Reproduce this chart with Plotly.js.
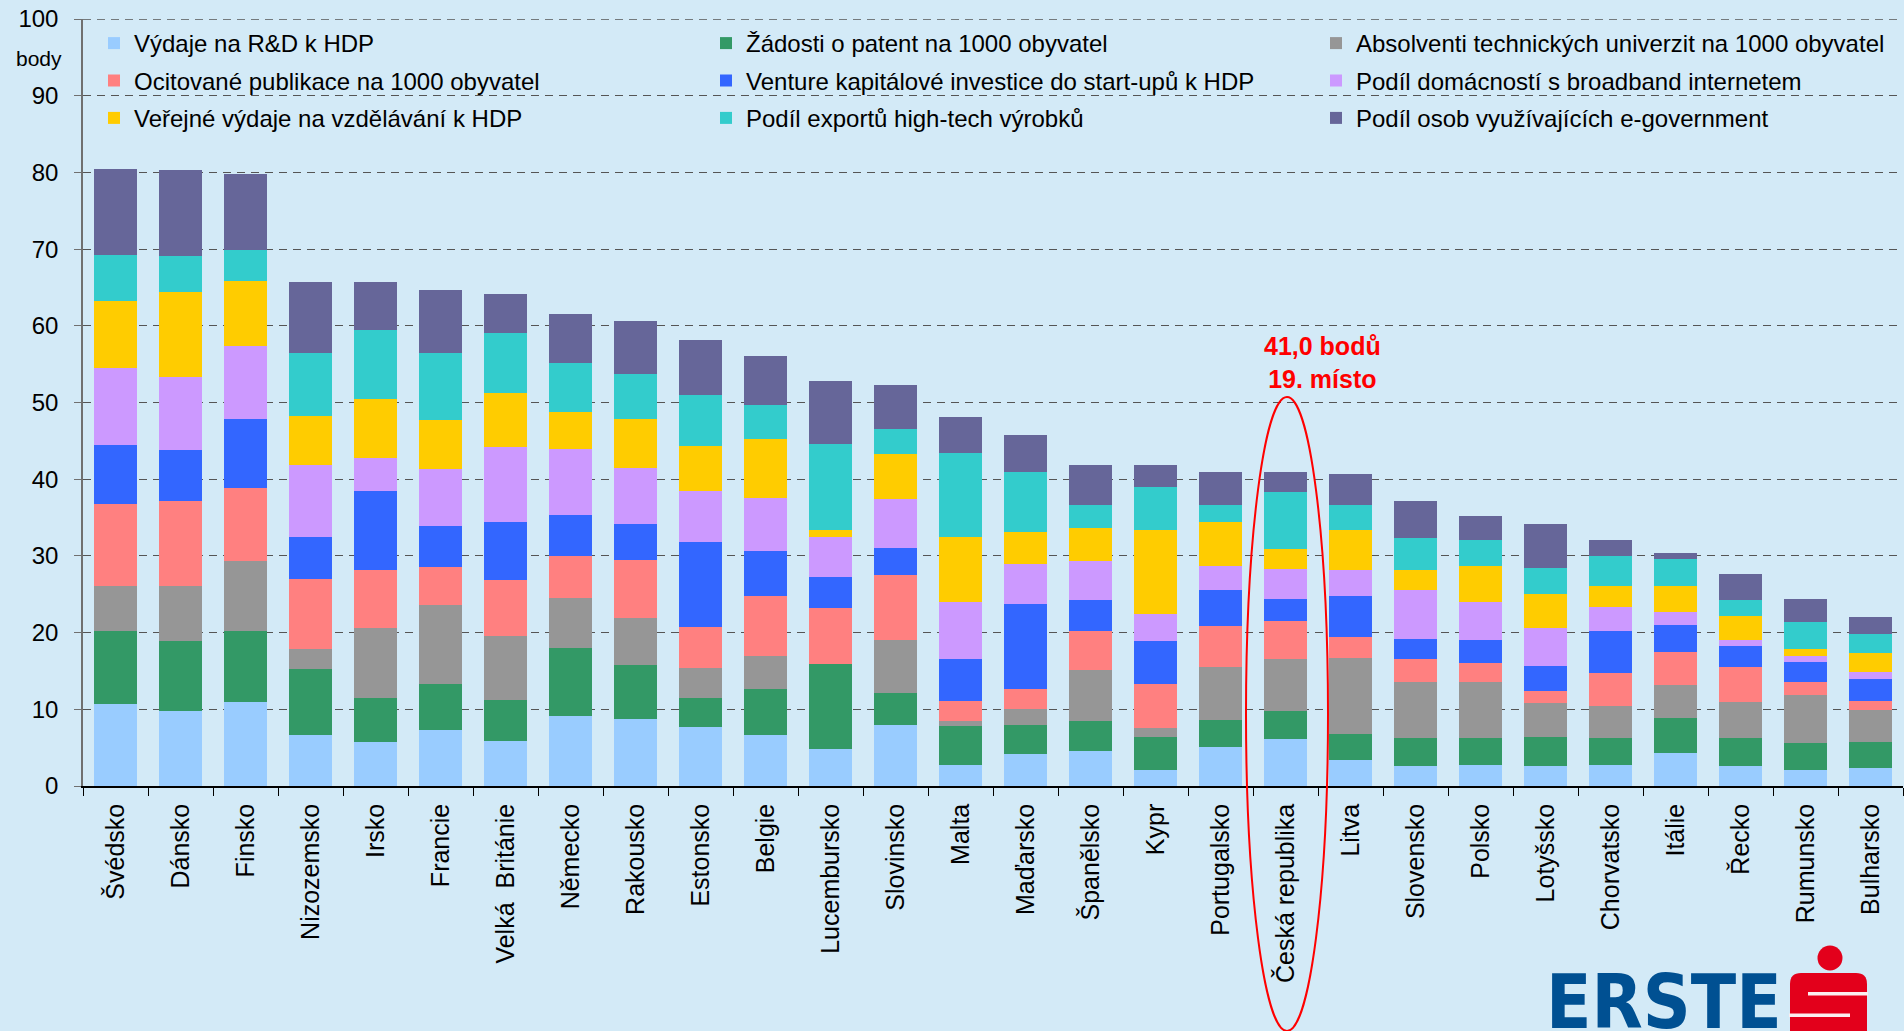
<!DOCTYPE html>
<html>
<head>
<meta charset="utf-8">
<script src="https://cdn.plot.ly/plotly-3.0.1.min.js"></script>
<style>
html,body{margin:0;padding:0;background:#d3eaf7;}
#chart{width:1904px;height:1031px;}
</style>
</head>
<body>
<div id="chart"></div>
<script>
// ---- data ----
const countries = ["Švédsko","Dánsko","Finsko","Nizozemsko","Irsko","Francie","Velká  Británie","Německo","Rakousko","Estonsko","Belgie","Lucembursko","Slovinsko","Malta","Maďarsko","Španělsko","Kypr","Portugalsko","Česká republika","Litva","Slovensko","Polsko","Lotyšsko","Chorvatsko","Itálie","Řecko","Rumunsko","Bulharsko"];

const seriesNames = [
  "Výdaje na R&D k HDP",
  "Žádosti o patent na 1000 obyvatel",
  "Absolventi technických univerzit na 1000 obyvatel",
  "Ocitované publikace na 1000 obyvatel",
  "Venture kapitálové investice do start-upů k HDP",
  "Podíl domácností s broadband internetem",
  "Veřejné výdaje na vzdělávání k HDP",
  "Podíl exportů high-tech výrobků",
  "Podíl osob využívajících e-government"
];

const rd         = [10.7, 9.8,10.9, 6.7, 5.7, 7.3, 5.9, 9.1, 8.7, 7.7, 6.6, 4.8, 8.0, 2.7, 4.2, 4.6, 2.1, 5.1, 6.1, 3.4, 2.6, 2.8, 2.6, 2.8, 4.3, 2.6, 2.1, 2.3];
const patenty    = [ 9.5, 9.1, 9.3, 8.6, 5.8, 6.0, 5.3, 8.9, 7.1, 3.8, 6.1,11.1, 4.1, 5.1, 3.8, 3.9, 4.3, 3.5, 3.7, 3.4, 3.6, 3.5, 3.8, 3.5, 4.6, 3.6, 3.5, 3.4];
const absolventi = [ 5.9, 7.2, 9.1, 2.5, 9.1,10.3, 8.3, 6.5, 6.1, 3.9, 4.3, 0.0, 6.9, 0.7, 2.0, 6.6, 1.2, 6.9, 6.7, 9.9, 7.3, 7.2, 4.4, 4.1, 4.3, 4.7, 6.2, 4.2];
const publikace  = [10.7,11.0, 9.6, 9.2, 7.6, 4.9, 7.4, 5.5, 7.6, 5.3, 7.8, 7.3, 8.5, 2.6, 2.6, 5.1, 5.7, 5.4, 5.0, 2.7, 3.0, 2.5, 1.6, 4.3, 4.3, 4.6, 1.7, 1.2];
const venture    = [ 7.6, 6.7, 9.0, 5.5,10.2, 5.4, 7.5, 5.3, 4.6,11.1, 5.8, 4.1, 3.5, 5.5,11.1, 4.1, 5.6, 4.6, 2.9, 5.4, 2.7, 3.0, 3.3, 5.5, 3.5, 2.7, 2.7, 2.9];
const broadband  = [10.1, 9.5, 9.5, 9.3, 4.4, 7.4, 9.8, 8.7, 7.4, 6.7, 6.9, 5.2, 6.4, 7.4, 5.2, 5.0, 3.5, 3.2, 3.9, 3.4, 6.3, 5.0, 4.9, 3.2, 1.7, 0.9, 0.7, 0.9];
const vzdelavani = [ 8.7,11.1, 8.5, 6.5, 7.6, 6.4, 7.1, 4.7, 6.4, 5.8, 7.8, 0.9, 5.9, 8.4, 4.2, 4.3,11.0, 5.7, 2.6, 5.2, 2.7, 4.7, 4.4, 2.7, 3.4, 3.0, 1.0, 2.4];
const hightech   = [ 6.0, 4.7, 4.0, 8.1, 9.1, 8.7, 7.8, 6.4, 5.8, 6.7, 4.4,11.2, 3.2,11.0, 7.8, 3.0, 5.6, 2.3, 7.4, 3.3, 4.1, 3.4, 3.4, 3.9, 3.5, 2.2, 3.5, 2.5];
const egov       = [11.2,11.2, 9.9, 9.3, 6.2, 8.3, 5.1, 6.5, 6.9, 7.2, 6.3, 8.2, 5.8, 4.7, 4.8, 5.3, 2.8, 4.3, 2.7, 4.0, 4.9, 3.1, 5.7, 2.1, 0.8, 3.4, 3.0, 2.2];

const yTicks = [0,10,20,30,40,50,60,70,80,90,100];

const series = [rd, patenty, absolventi, publikace, venture, broadband, vzdelavani, hightech, egov];
const colors = ["#99ccff","#339966","#969696","#ff8080","#3366ff","#cc99ff","#ffcc00","#33cccc","#666699"];

// ---- geometry ----
const W = 1904, H = 1031, ML = 83, MR = 1, MT = 19, MB = 245;
const plotW = W - ML - MR, plotH = H - MT - MB;
const px2x = p => (p - ML) / plotW;
const px2y = p => (H - MB - p) / plotH;
const catW = plotW / countries.length;
const catCenterPx = i => ML + catW * (i + 0.5);

const FONT = "Liberation Sans, Arial, Helvetica, sans-serif";
const legendIds = ["legend", "legend2", "legend3"];
const GRID = {color: "#555555", width: 1.3, dash: "8px,6px"};

const traces = series.map((vals, k) => ({
  type: "bar",
  name: seriesNames[k],
  x: countries,
  y: vals,
  marker: {color: colors[k], line: {width: 0}},
  legend: legendIds[k % 3],
  legendgroup: "g" + k,
  hoverinfo: "name+y"
}));

// highlighted country
const czIdx = countries.indexOf("Česká republika");
const czTotal = series.reduce((s, arr) => s + arr[czIdx], 0);
const czText = "<b>" + czTotal.toFixed(1).replace(".", ",") + " bodů<br>" + (czIdx + 1) + ". místo</b>";
const czC = catCenterPx(czIdx) + 1.5;

function legendAt(xpx) {
  return {
    xref: "paper", yref: "paper",
    x: px2x(xpx), y: px2y(21),
    xanchor: "left", yanchor: "top",
    bgcolor: "rgba(0,0,0,0)", borderwidth: 0,
    font: {family: FONT, size: 24, color: "#000"},
    traceorder: "grouped", tracegroupgap: 3.2,
    itemclick: false, itemdoubleclick: false
  };
}

// rounded rect path in paper coords
function roundRectPath(x0, y0, x1, y1, r) {
  const X = px2x, Y = px2y;
  return "M" + X(x0 + r) + "," + Y(y0) +
    " L" + X(x1 - r) + "," + Y(y0) +
    " Q" + X(x1) + "," + Y(y0) + " " + X(x1) + "," + Y(y0 + r) +
    " L" + X(x1) + "," + Y(y1 - r) +
    " Q" + X(x1) + "," + Y(y1) + " " + X(x1 - r) + "," + Y(y1) +
    " L" + X(x0 + r) + "," + Y(y1) +
    " Q" + X(x0) + "," + Y(y1) + " " + X(x0) + "," + Y(y1 - r) +
    " L" + X(x0) + "," + Y(y0 + r) +
    " Q" + X(x0) + "," + Y(y0) + " " + X(x0 + r) + "," + Y(y0) + " Z";
}

const RED = "#e3001b";
const yMax = yTicks[yTicks.length - 1];
const layout = {
  width: W, height: H,
  margin: {l: ML, r: MR, t: MT, b: MB, pad: 0, autoexpand: false},
  paper_bgcolor: "#d3eaf7",
  plot_bgcolor: "#d3eaf7",
  barmode: "stack",
  bargap: 0.33,
  font: {family: FONT, color: "#000"},
  showlegend: true,
  legend: legendAt(94),
  legend2: legendAt(706),
  legend3: legendAt(1316),
  xaxis: {
    type: "category",
    tickangle: -90,
    tickfont: {family: FONT, size: 25, color: "#000"},
    showline: true, linecolor: "#000", linewidth: 1.5,
    ticks: "outside", tickson: "boundaries", ticklen: 8, tickcolor: "#000", tickwidth: 1,
    ticklabelstandoff: 6,
    showgrid: false, zeroline: false,
    automargin: false,
    range: [-0.5, countries.length - 0.5]
  },
  yaxis: {
    range: [0, yMax],
    tickvals: yTicks,
    ticktext: yTicks.map(String),
    tickfont: {family: FONT, size: 24, color: "#000"},
    showline: true, linecolor: "#707070", linewidth: 1.5,
    ticks: "outside", ticklen: 7, tickcolor: "#707070", tickwidth: 1.2,
    ticklabelstandoff: 11,
    showgrid: true, gridcolor: GRID.color, gridwidth: GRID.width, griddash: GRID.dash,
    zeroline: false,
    automargin: false,
    layer: "below traces"
  },
  annotations: [
    {xref: "paper", yref: "paper", x: px2x(39), y: px2y(59), text: "body", showarrow: false,
     xanchor: "center", yanchor: "middle", font: {family: FONT, size: 21, color: "#000"}},
    {xref: "paper", yref: "paper", x: px2x(catCenterPx(czIdx) + 37), y: px2y(362), text: czText, showarrow: false,
     xanchor: "center", yanchor: "middle", font: {family: FONT, size: 25, color: "#ff0000"}},
    {xref: "paper", yref: "paper", x: px2x(1663.5), y: px2y(1002), text: "<b>ERSTE</b>", showarrow: false,
     xanchor: "center", yanchor: "middle",
     font: {family: "Liberation Sans Narrow, DejaVu Sans Condensed, Arial Narrow, sans-serif", size: 74, color: "#005092"}}
  ],
  shapes: [
    // top gridline at the range edge (Plotly skips it)
    {type: "line", xref: "paper", yref: "y", x0: 0, x1: 1, y0: yMax, y1: yMax, layer: "below",
     line: {color: GRID.color, width: GRID.width, dash: GRID.dash}},
    {type: "circle", xref: "paper", yref: "paper",
     x0: px2x(czC - 41), x1: px2x(czC + 41), y0: px2y(1031), y1: px2y(397),
     line: {color: "#ff0000", width: 2}, fillcolor: "rgba(0,0,0,0)"},
    {type: "circle", xref: "paper", yref: "paper",
     x0: px2x(1817.5), x1: px2x(1842.5), y0: px2y(970.5), y1: px2y(945.5),
     line: {width: 0}, fillcolor: RED},
    {type: "path", xref: "paper", yref: "paper", path: roundRectPath(1790, 973, 1867, 1045, 11),
     line: {width: 0}, fillcolor: RED},
    {type: "rect", xref: "paper", yref: "paper",
     x0: px2x(1808), x1: px2x(1868), y0: px2y(995.5), y1: px2y(992),
     line: {width: 0}, fillcolor: "#fbeef0"},
    {type: "rect", xref: "paper", yref: "paper",
     x0: px2x(1789), x1: px2x(1850), y0: px2y(1017), y1: px2y(1013.5),
     line: {width: 0}, fillcolor: "#fbeef0"}
  ]
};

Plotly.newPlot("chart", traces, layout, {displayModeBar: false, responsive: false});
</script>
</body>
</html>
